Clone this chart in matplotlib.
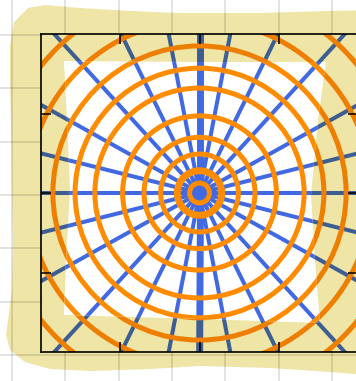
import numpy as np
import matplotlib
matplotlib.use("Agg")
import matplotlib.pyplot as plt
from matplotlib.patches import Polygon, Circle

W, H = 356, 381

# spoke directions (deg) in the first quadrant, mirrored into the other three
spoke_deg = [0, 14, 29, 47.5, 63.7, 79, 90]
# ring radii, axis units
ring_r = [0.125, 0.28, 0.49, 0.70, 0.97, 1.32, 1.57, 1.85, 2.17, 2.56]
ticks = [-1, 0, 1]

khaki = "#EEE5A6"
blue = "#4169E1"
blue_dk = "#3D5E92"
orange = "#FF8C00"
orange_dk = "#EE7E00"

# axes box in pixels: left, top, right, bottom
AX = (41, 34, 358, 352)
lim = 2.0

# hand drawn outlines, in pixels (y down)
blob = [(10, 45), (14, 22), (28, 8), (45, 5), (80, 8), (130, 11), (180, 13),
        (260, 13), (330, 11), (380, 10), (380, 376), (330, 372), (270, 368),
        (200, 366), (150, 369), (90, 371), (50, 369), (25, 362), (10, 350),
        (6, 335), (8, 320), (12, 290), (13, 240), (12, 190), (11, 120), (10, 80)]
paper = [(64, 61), (200, 62), (326, 62), (318, 120), (311, 195), (315, 260),
         (320, 323), (200, 319), (64, 315), (66, 260), (70, 190), (67, 120)]


def to_data(pts):
    pts = np.asarray(pts, float)
    x = (pts[:, 0] - AX[0]) / (AX[2] - AX[0]) * 2 * lim - lim
    y = lim - (pts[:, 1] - AX[1]) / (AX[3] - AX[1]) * 2 * lim
    return np.column_stack([x, y])


fig = plt.figure(figsize=(W / 100, H / 100), dpi=100)
fig.patch.set_facecolor("white")

# background sheet: khaki blob + faint grid
bg = fig.add_axes([0, 0, 1, 1])
bg.set_xlim(0, W)
bg.set_ylim(H, 0)
bg.axis("off")
bg.add_patch(Polygon(blob, closed=True, fc=khaki, ec="none"))
for g in np.arange(12, W, 53.33):
    bg.axvline(g, color="k", alpha=0.12, lw=1.3)
for g in np.arange(35, H, 53.33):
    bg.axhline(g, color="k", alpha=0.12, lw=1.3)

ax = fig.add_axes([AX[0] / W, 1 - AX[3] / H, (AX[2] - AX[0]) / W, (AX[3] - AX[1]) / H])
ax.set_facecolor(khaki)
ax.set_xlim(-lim, lim)
ax.set_ylim(-lim, lim)

white = Polygon(to_data(paper), closed=True, fc="white", ec="none", zorder=2)
ax.add_patch(white)

angles = sorted({a % 360 for s in spoke_deg for a in (s, 180 - s, 180 + s, 360 - s)})
for a in angles:
    t = np.radians(a)
    lw = 5.0 if a % 180 == 90 else 2.9
    xs, ys = [0, 3 * np.cos(t)], [0, 3 * np.sin(t)]
    ax.plot(xs, ys, color=blue_dk, lw=lw, zorder=1, solid_capstyle="butt")
    ln, = ax.plot(xs, ys, color=blue, lw=lw, zorder=3, solid_capstyle="butt")
    ln.set_clip_path(white)

for i, r in enumerate(ring_r):
    lw = 5.0 if i == 1 else 3.6
    ax.add_patch(Circle((0, 0), r, fill=False, ec=orange_dk, lw=lw, zorder=1.5))
    c = Circle((0, 0), r, fill=False, ec=orange, lw=lw, zorder=4)
    ax.add_patch(c)
    c.set_clip_path(white)

ax.set_xticks(ticks)
ax.set_yticks(ticks)
ax.tick_params(direction="in", length=7.2, width=1.1, top=True, right=True,
               labelbottom=False, labelleft=False)
for sp in ax.spines.values():
    sp.set_linewidth(1.2)
    sp.set_zorder(6)

fig.savefig("out.png", dpi=100)
